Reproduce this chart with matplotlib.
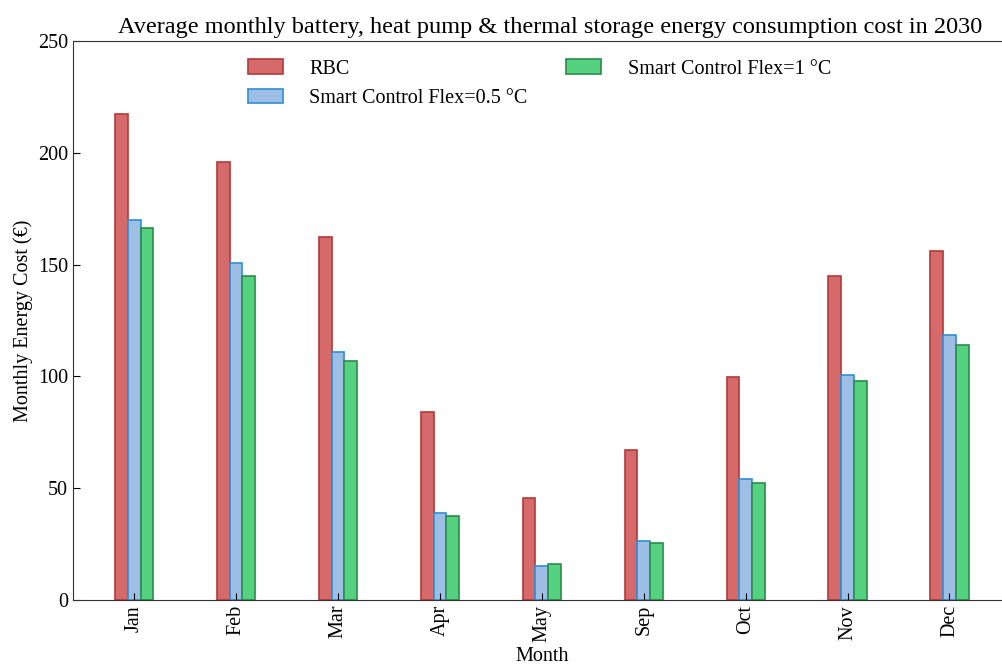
import matplotlib
matplotlib.use("Agg")
import matplotlib.pyplot as plt
import numpy as np

months = ["Jan", "Feb", "Mar", "Apr", "May", "Sep", "Oct", "Nov", "Dec"]
rbc = [217.2, 196.1, 162.5, 84.0, 45.8, 67.3, 99.6, 145.0, 156.2]
flex05 = [170.1, 150.8, 110.9, 39.0, 15.3, 26.5, 54.3, 100.5, 118.5]
flex1 = [166.5, 145.0, 106.8, 37.7, 16.2, 25.6, 52.5, 97.8, 114.0]
series_labels = ["RBC", "Smart Control Flex=0.5 °C", "Smart Control Flex=1 °C"]

plt.rcParams['font.family'] = ['Liberation Serif', 'DejaVu Serif']

fig = plt.figure(figsize=(10.02, 6.65), dpi=100)
# axes extend slightly beyond the right edge of the figure (cropped in the reference)
ax = fig.add_axes([0.0729, 0.0977, 0.952, 0.8406])

x = np.arange(len(months))
w = 0.125
ax.bar(x - w, rbc, w, color='#d66a6a', edgecolor='#b13a3a', linewidth=1.2, label=series_labels[0])
ax.bar(x, flex05, w, color='#9dbfe6', edgecolor='#2f8fd2', linewidth=1.2, label=series_labels[1])
ax.bar(x + w, flex1, w, color='#55d27f', edgecolor='#2a8c4a', linewidth=1.2, label=series_labels[2])

ax.set_xlim(-0.6, 8.76)
ax.set_ylim(0, 250)
ax.set_xticks(x)
ax.set_xticklabels(months, rotation=90, fontsize=14.5)
ax.set_yticks([0, 50, 100, 150, 200, 250])
ax.tick_params(axis='both', direction='in', labelsize=14.5, length=5)
for s in ['left', 'top', 'bottom', 'right']:
    ax.spines[s].set_color('#333333')

ax.set_xlabel("Month", fontsize=14.5, labelpad=4, x=0.4916)
ax.set_ylabel("Monthly Energy Cost (€)", fontsize=14.5)
ax.set_title("Average monthly battery, heat pump & thermal storage energy consumption cost in 2030",
             fontsize=17.5, pad=6)

ax.legend(loc='upper center', ncol=2, frameon=False, fontsize=14.5, handlelength=1.75, handleheight=0.75,
          handletextpad=1.3, columnspacing=1.9, bbox_to_anchor=(0.489, 1.0))

fig.savefig("out.png", dpi=100)
